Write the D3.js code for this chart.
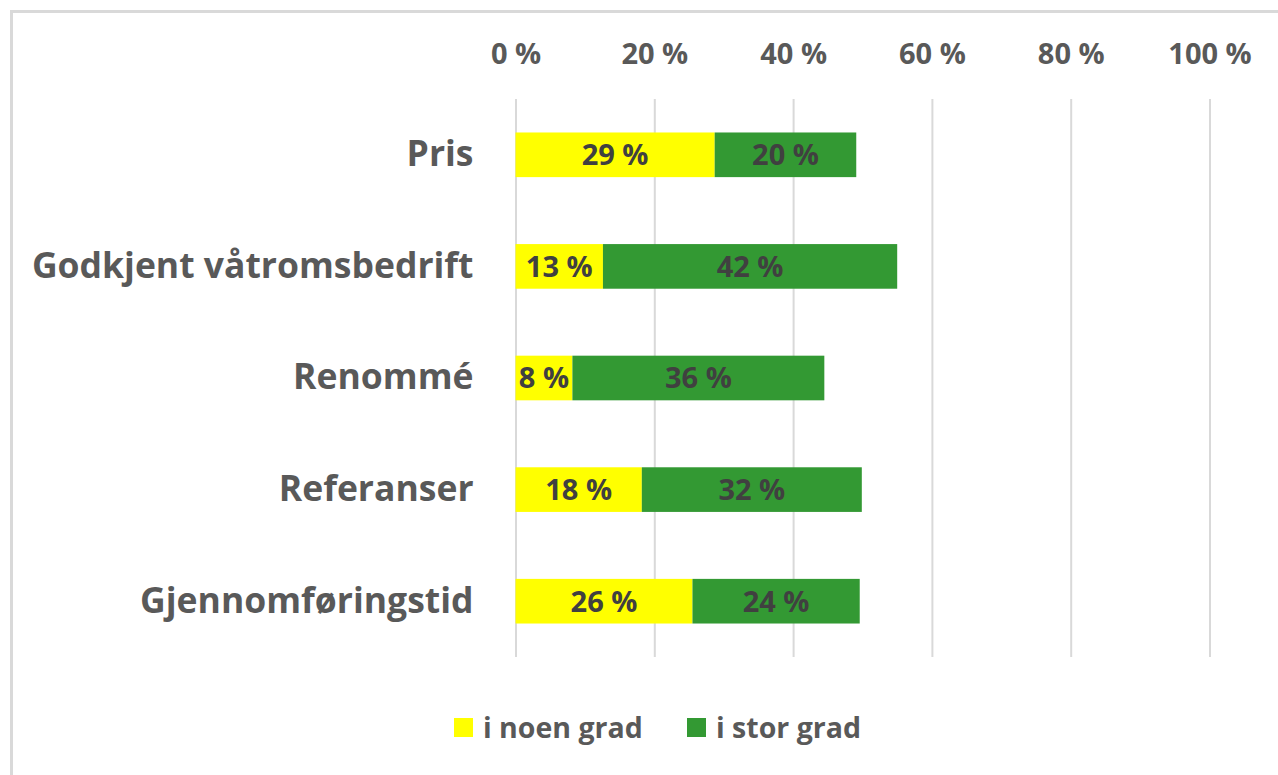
<!DOCTYPE html>
<html>
<head>
<meta charset="utf-8">
<script src="https://cdn.jsdelivr.net/npm/d3@7"></script>
<style>
  html, body { margin: 0; padding: 0; background: #fff; }
  svg { display: block; }
  text { font-family: "Open Sans", Lato, sans-serif; font-weight: bold; }
</style>
</head>
<body>
<svg id="chart" width="1278" height="775"></svg>
<script>
const categories = ["Pris", "Godkjent våtromsbedrift", "Renommé", "Referanser", "Gjennomføringstid"];
const seriesNames = ["i noen grad", "i stor grad"];
const noenGrad = [28.7, 12.6, 8.2, 18.2, 25.5];
const storGrad = [20.4, 42.4, 36.3, 31.7, 24.1];
const tickValues = [0, 20, 40, 60, 80, 100];
const colors = ["#ffff00", "#339933"];

const svg = d3.select("#chart");
const W = 1278, H = 775;
const FONT = "'Open Sans', sans-serif";

// outer border
svg.append("rect")
  .attr("x", 11.5).attr("y", 11.5)
  .attr("width", W + 20).attr("height", H + 20)
  .attr("fill", "#fff").attr("stroke", "#d9d9d9").attr("stroke-width", 3);

const plot = { left: 515.5, right: 1209.5, top: 99, bottom: 657 };

const x = d3.scaleLinear().domain([0, 100]).range([plot.left, plot.right]);
const y = d3.scaleBand().domain(categories).range([plot.top, plot.bottom])
  .paddingInner(0.6).paddingOuter(0.3);

// gridlines
svg.append("g")
  .attr("transform", `translate(0,${plot.bottom})`)
  .call(d3.axisBottom(x).tickValues(tickValues).tickSize(-(plot.bottom - plot.top)).tickFormat(""))
  .call(g => g.select(".domain").remove())
  .call(g => g.selectAll(".tick line").attr("stroke", "#d9d9d9").attr("stroke-width", 2));

// top axis labels
svg.append("g")
  .attr("transform", `translate(0,${plot.top})`)
  .call(d3.axisTop(x).tickValues(tickValues).tickSize(0).tickPadding(35).tickFormat(d => d + " %"))
  .call(g => g.select(".domain").remove())
  .call(g => g.selectAll(".tick text")
    .attr("fill", "#595959").style("font-size", "29px")
    .style("font-family", FONT).style("font-weight", "bold"));

// category axis
svg.append("g")
  .attr("transform", `translate(${plot.left},0)`)
  .call(d3.axisLeft(y).tickSize(0).tickPadding(42))
  .call(g => g.select(".domain").remove())
  .call(g => g.selectAll(".tick text")
    .attr("fill", "#595959").style("font-size", "35.5px")
    .style("font-family", FONT).style("font-weight", "bold"));

// stacked data
const rows = categories.map((c, i) => ({ cat: c, noen: noenGrad[i], stor: storGrad[i] }));
const stack = d3.stack().keys(["noen", "stor"]);
const stacked = stack(rows);

const layers = svg.append("g").selectAll("g")
  .data(stacked).join("g")
  .attr("fill", (d, i) => colors[i]);

layers.selectAll("rect")
  .data(d => d).join("rect")
  .attr("x", d => x(d[0]))
  .attr("y", d => y(d.data.cat))
  .attr("width", d => x(d[1]) - x(d[0]))
  .attr("height", y.bandwidth());

layers.selectAll("text")
  .data(d => d).join("text")
  .attr("x", d => (x(d[0]) + x(d[1])) / 2)
  .attr("y", d => y(d.data.cat) + y.bandwidth() / 2)
  .attr("dy", "0.36em")
  .attr("text-anchor", "middle")
  .attr("fill", "#404040")
  .style("font-size", "29px")
  .text(d => Math.round(d[1] - d[0]) + " %");

// legend
const legendItems = [{ name: seriesNames[0], color: colors[0], x: 454 }, { name: seriesNames[1], color: colors[1], x: 687 }];
const lg = svg.append("g").selectAll("g").data(legendItems).join("g")
  .attr("transform", d => `translate(${d.x},718)`);
lg.append("rect").attr("width", 19).attr("height", 19).attr("fill", d => d.color);
lg.append("text").attr("x", 29).attr("y", 9.5).attr("dy", "0.36em")
  .attr("fill", "#595959").style("font-size", "28.5px").text(d => d.name);
</script>
</body>
</html>
